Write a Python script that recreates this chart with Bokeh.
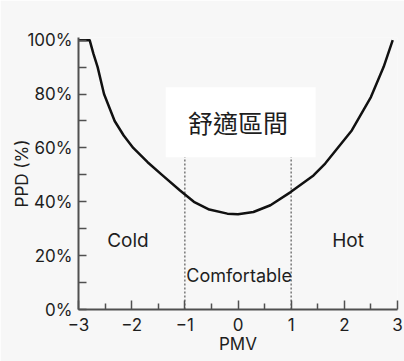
from bokeh.plotting import figure
from bokeh.models import Range1d, FixedTicker, PrintfTickFormatter, ColumnDataSource, Label
from bokeh.embed import file_html
from bokeh.resources import INLINE

# Curve (PMV vs PPD %)
pmv = [-3.0, -2.79, -2.72, -2.64, -2.52, -2.32, -2.15, -1.97, -1.70, -1.43,
       -1.09, -0.83, -0.54, -0.20, 0.0, 0.29, 0.61, 0.99, 1.42, 1.64,
       2.14, 2.50, 2.74, 2.91]
ppd = [100, 100, 95.0, 90.0, 80.0, 70.0, 64.6, 60.0, 54.7, 50.0,
       44.2, 40.0, 37.1, 35.6, 35.4, 36.2, 38.7, 43.6, 49.8, 54.2,
       66.5, 78.9, 90.1, 100]

comfort_bounds = [-1, 1]
x_ticks = [-3, -2, -1, 0, 1, 2, 3]
x_minor = [-2.5, -1.5, -0.5, 0.5, 1.5, 2.5]
y_ticks = [0, 20, 40, 60, 80, 100]
y_minor = [10, 30, 50, 70, 90]
zone_title = "舒適區間"
zone_names = ["Cold", "Comfortable", "Hot"]

FONT = "Inter"
BG = "#f7f7f7"
AX = "#505050"
TXT = "#1e1e1e"

p = figure(width=404, height=361, output_backend="svg", toolbar_location=None,
           x_range=Range1d(-3, 3), y_range=Range1d(0, 101),
           min_border_left=78, min_border_right=7, min_border_top=37, min_border_bottom=52,
           background_fill_color=BG, border_fill_color=BG, outline_line_color=None)
p.grid.visible = False

# dotted comfort boundaries
for b in comfort_bounds:
    p.segment(x0=[b], y0=[0], x1=[b], y1=[57], line_color="#777777",
              line_width=1.5, line_dash="2 2")

# curve
src = ColumnDataSource(dict(x=pmv, y=ppd))
p.line("x", "y", source=src, line_color="#111111", line_width=2.5,
       line_join="round")

# white title box
p.quad(left=[-1.36], right=[1.46], bottom=[56.5], top=[82.5],
       fill_color="white", line_color=None)
p.add_layout(Label(x=0.0, y=69.5, text=zone_title, text_align="center", text_baseline="middle",
                   text_font="Noto Sans CJK TC", text_font_size="25px",
                   text_color=TXT))

p.add_layout(Label(x=-2.07, y=25.5, text=zone_names[0], text_align="center",
                   text_baseline="middle", text_font=FONT, text_font_size="19px",
                   text_color=TXT))
p.add_layout(Label(x=0.02, y=12.6, text=zone_names[1], text_align="center",
                   text_baseline="middle", text_font=FONT, text_font_size="18px",
                   text_color=TXT))
p.add_layout(Label(x=2.07, y=25.5, text=zone_names[2], text_align="center",
                   text_baseline="middle", text_font=FONT, text_font_size="19px",
                   text_color=TXT))

# axes
xa = p.xaxis[0]
xa.ticker = FixedTicker(ticks=x_ticks, minor_ticks=x_minor)
xa.major_label_overrides = {t: (("\u2212" + str(-t)) if t < 0 else str(t)) for t in x_ticks}
xa.axis_label = "PMV"
ya = p.yaxis[0]
ya.ticker = FixedTicker(ticks=y_ticks, minor_ticks=y_minor)
ya.formatter = PrintfTickFormatter(format="%d%%")
ya.axis_label = "PPD (%)"

for ax in (xa, ya):
    ax.axis_line_color = AX
    ax.axis_line_width = 2
    ax.major_tick_line_color = AX
    ax.minor_tick_line_color = AX
    ax.major_tick_line_width = 1.5
    ax.minor_tick_line_width = 1.5
    ax.major_tick_out = 0
    ax.minor_tick_out = 0
    ax.major_label_text_font = FONT
    ax.major_label_text_font_size = "17px"
    ax.major_label_text_color = TXT
    ax.axis_label_text_font = FONT
    ax.axis_label_text_font_size = "17px"
    ax.axis_label_text_font_style = "normal"
    ax.axis_label_text_color = TXT

xa.major_tick_in = 9
xa.minor_tick_in = 6
xa.major_label_standoff = 8
xa.axis_label_standoff = 0
ya.major_tick_in = 8
ya.minor_tick_in = 8
ya.major_label_standoff = 6
ya.axis_label_standoff = -8

open("out.html", "w").write(file_html(p, INLINE))
